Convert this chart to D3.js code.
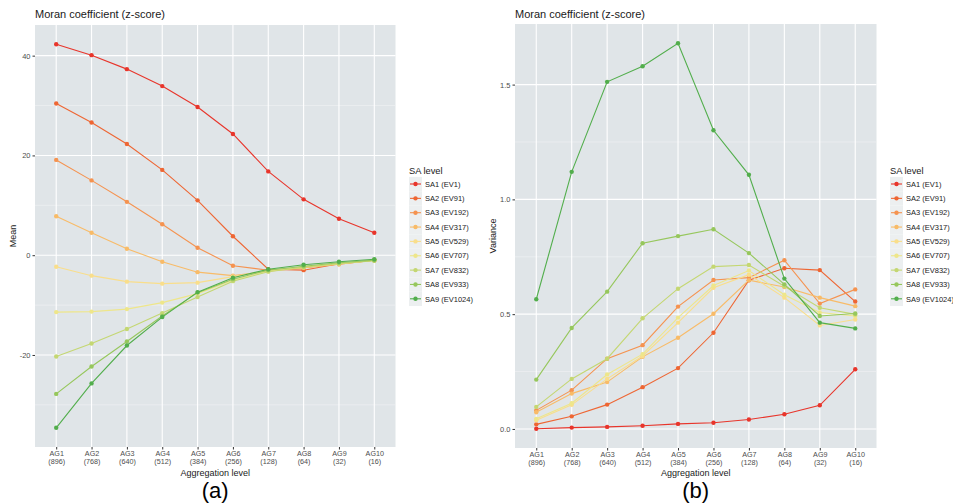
<!DOCTYPE html>
<html><head><meta charset="utf-8">
<script src="https://cdn.jsdelivr.net/npm/d3@7"></script>
<style>body{margin:0;background:#fff;font-family:"Liberation Sans",Arial,sans-serif;}</style>
</head><body><svg id="c" width="953" height="504"></svg>
<script>
const categories = ["AG1","AG2","AG3","AG4","AG5","AG6","AG7","AG8","AG9","AG10"];
const categorySizes = ["(896)","(768)","(640)","(512)","(384)","(256)","(128)","(64)","(32)","(16)"];
const seriesNames = ["SA1 (EV1)","SA2 (EV91)","SA3 (EV192)","SA4 (EV317)","SA5 (EV529)","SA6 (EV707)","SA7 (EV832)","SA8 (EV933)","SA9 (EV1024)"];
const seriesColors = ["#e8352b","#ee6633","#f59350","#f8bb68","#f9de8b","#eee68a","#c4d772","#96c75c","#52ae4c"];

// Panel (a): mean z-score
const meanSA1 = [42.3, 40.1, 37.3, 33.9, 29.7, 24.3, 16.8, 11.2, 7.3, 4.5];
const meanSA2 = [30.4, 26.6, 22.3, 17.1, 11.0, 3.8, -2.8, -3.0, -1.7, -1.0];
const meanSA3 = [19.1, 15.0, 10.7, 6.2, 1.5, -2.1, -3.0, -2.5, -1.8, -1.0];
const meanSA4 = [7.8, 4.5, 1.3, -1.3, -3.4, -4.1, -3.2, -2.5, -1.8, -1.0];
const meanSA5 = [-2.3, -4.1, -5.3, -5.7, -5.5, -4.3, -3.1, -2.4, -1.7, -1.0];
const meanSA6 = [-11.4, -11.3, -10.8, -9.5, -7.7, -5.0, -3.2, -2.3, -1.6, -1.0];
const meanSA7 = [-20.3, -17.7, -14.8, -11.6, -8.4, -5.2, -3.3, -2.4, -1.7, -1.1];
const meanSA8 = [-27.8, -22.3, -17.3, -12.2, -7.5, -4.8, -3.0, -2.2, -1.5, -1.0];
const meanSA9 = [-34.6, -25.7, -18.1, -12.4, -7.4, -4.5, -2.8, -1.9, -1.3, -0.8];
const meanTicks = [-20, 0, 20, 40];
const meanMinor = [-30, -10, 10, 30];

// Panel (b): variance
const varSA1 = [0.001, 0.006, 0.009, 0.014, 0.022, 0.027, 0.041, 0.064, 0.103, 0.26];
const varSA2 = [0.020, 0.055, 0.106, 0.182, 0.265, 0.419, 0.648, 0.700, 0.692, 0.555];
const varSA3 = [0.081, 0.169, 0.306, 0.365, 0.533, 0.649, 0.659, 0.735, 0.546, 0.608];
const varSA4 = [0.073, 0.154, 0.204, 0.314, 0.397, 0.502, 0.648, 0.618, 0.572, 0.535];
const varSA5 = [0.038, 0.105, 0.218, 0.318, 0.463, 0.615, 0.672, 0.572, 0.451, 0.477];
const varSA6 = [0.044, 0.112, 0.237, 0.326, 0.485, 0.625, 0.690, 0.585, 0.507, 0.492];
const varSA7 = [0.096, 0.218, 0.306, 0.482, 0.611, 0.707, 0.714, 0.622, 0.528, 0.499];
const varSA8 = [0.215, 0.440, 0.598, 0.809, 0.840, 0.870, 0.766, 0.630, 0.492, 0.503];
const varSA9 = [0.565, 1.120, 1.512, 1.580, 1.680, 1.301, 1.107, 0.655, 0.463, 0.438];
const varTicks = [0.0, 0.5, 1.0, 1.5];
const varMinor = [0.25, 0.75, 1.25];

const meanSeries = [meanSA1, meanSA2, meanSA3, meanSA4, meanSA5, meanSA6, meanSA7, meanSA8, meanSA9];
const varSeries = [varSA1, varSA2, varSA3, varSA4, varSA5, varSA6, varSA7, varSA8, varSA9];

const svg = d3.select("#c");
const PANEL_BG = "#e0e5e8";
const FONT = "Liberation Sans, Arial, sans-serif";

function drawPanel(o) {
  const g = svg.append("g").style("font-family", FONT);
  const x = d3.scalePoint().domain(categories).range([o.left, o.right]).padding(0.6);
  const all = o.series.flat();
  const lo = d3.min(all), hi = d3.max(all), pad = (hi - lo) * 0.05;
  const y = d3.scaleLinear().domain([lo - pad, hi + pad]).range([o.bottom, o.top]);

  g.append("rect").attr("x", o.left).attr("y", o.top).attr("width", o.right - o.left)
    .attr("height", o.bottom - o.top).attr("fill", PANEL_BG);
  g.selectAll(".mn").data(o.minor).join("line")
    .attr("x1", o.left).attr("x2", o.right).attr("y1", d => y(d)).attr("y2", d => y(d))
    .attr("stroke", "#f2f4f5").attr("stroke-width", 0.6);
  g.selectAll(".mj").data(o.ticks).join("line")
    .attr("x1", o.left).attr("x2", o.right).attr("y1", d => y(d)).attr("y2", d => y(d))
    .attr("stroke", "#ffffff").attr("stroke-width", 1.1);
  g.selectAll(".vx").data(categories).join("line")
    .attr("x1", d => x(d)).attr("x2", d => x(d)).attr("y1", o.top).attr("y2", o.bottom)
    .attr("stroke", "#ffffff").attr("stroke-width", 1.1);

  const ya = g.append("g").attr("transform", `translate(${o.left},0)`)
    .call(d3.axisLeft(y).tickValues(o.ticks).tickFormat(o.fmt).tickSize(2.5).tickPadding(2));
  ya.select(".domain").remove();
  ya.selectAll("line").attr("stroke", "#333");
  ya.selectAll("text").attr("fill", "#4d4d4d").style("font-size", "7.5px").style("font-family", FONT);

  const xa = g.append("g").attr("transform", `translate(0,${o.bottom})`)
    .call(d3.axisBottom(x).tickSize(2.5).tickPadding(2).tickFormat(() => ""));
  xa.select(".domain").remove();
  xa.selectAll("line").attr("stroke", "#333");
  xa.selectAll(".tick").each(function(d, i) {
    const t = d3.select(this).select("text").attr("fill", "#4d4d4d")
      .style("font-size", "7.2px").style("font-family", FONT).attr("y", 0).attr("dy", 0);
    t.append("tspan").attr("x", 0).attr("y", 9).text(d);
    t.append("tspan").attr("x", 0).attr("y", 16.8).text(categorySizes[i]);
  });

  const line = d3.line().x((d, i) => x(categories[i])).y(d => y(d));
  o.series.forEach((s, k) => {
    g.append("path").datum(s).attr("d", line).attr("fill", "none")
      .attr("stroke", seriesColors[k]).attr("stroke-width", 1.1);
    g.selectAll(null).data(s).join("circle")
      .attr("cx", (d, i) => x(categories[i])).attr("cy", d => y(d)).attr("r", 2.2)
      .attr("fill", seriesColors[k]);
  });

  g.append("text").attr("x", o.left).attr("y", 18).text("Moran coefficient (z-score)")
    .attr("fill", "#1a1a1a").style("font-size", "11px");
  g.append("text").attr("transform", `translate(${o.left - 19},${(o.top + o.bottom) / 2}) rotate(-90)`)
    .attr("text-anchor", "middle").text(o.ylab).attr("fill", "#1a1a1a").style("font-size", "9px");
  g.append("text").attr("x", (o.left + o.right) / 2).attr("y", 475.5).attr("text-anchor", "middle")
    .text("Aggregation level").attr("fill", "#1a1a1a").style("font-size", "9px");
  g.append("text").attr("x", (o.left + o.right) / 2).attr("y", 498).attr("text-anchor", "middle")
    .text(o.caption).attr("fill", "#000").style("font-size", "22px");

  const lg = g.append("g");
  lg.append("text").attr("x", o.legX).attr("y", 173.5).text("SA level")
    .attr("fill", "#1a1a1a").style("font-size", "9.3px");
  seriesNames.forEach((nm, k) => {
    const cy = 184 + k * 14.35;
    lg.append("rect").attr("x", o.legX).attr("y", cy - 7.1).attr("width", 13).attr("height", 14.35)
      .attr("fill", "#eceff0");
    lg.append("line").attr("x1", o.legX + 1).attr("x2", o.legX + 12).attr("y1", cy).attr("y2", cy)
      .attr("stroke", seriesColors[k]).attr("stroke-width", 1.1);
    lg.append("circle").attr("cx", o.legX + 6.5).attr("cy", cy).attr("r", 2.2).attr("fill", seriesColors[k]);
    lg.append("text").attr("x", o.legX + 16).attr("y", cy + 2.7).text(nm)
      .attr("fill", "#1a1a1a").style("font-size", "7.5px");
  });
}

drawPanel({left: 35, right: 395.5, top: 25, bottom: 447, series: meanSeries,
  ticks: meanTicks, minor: meanMinor, fmt: d => String(d), ylab: "Mean", caption: "(a)", legX: 409});
drawPanel({left: 515, right: 876.5, top: 24, bottom: 448, series: varSeries,
  ticks: varTicks, minor: varMinor, fmt: d => d.toFixed(1), ylab: "Variance", caption: "(b)", legX: 890});
</script>
</body></html>
